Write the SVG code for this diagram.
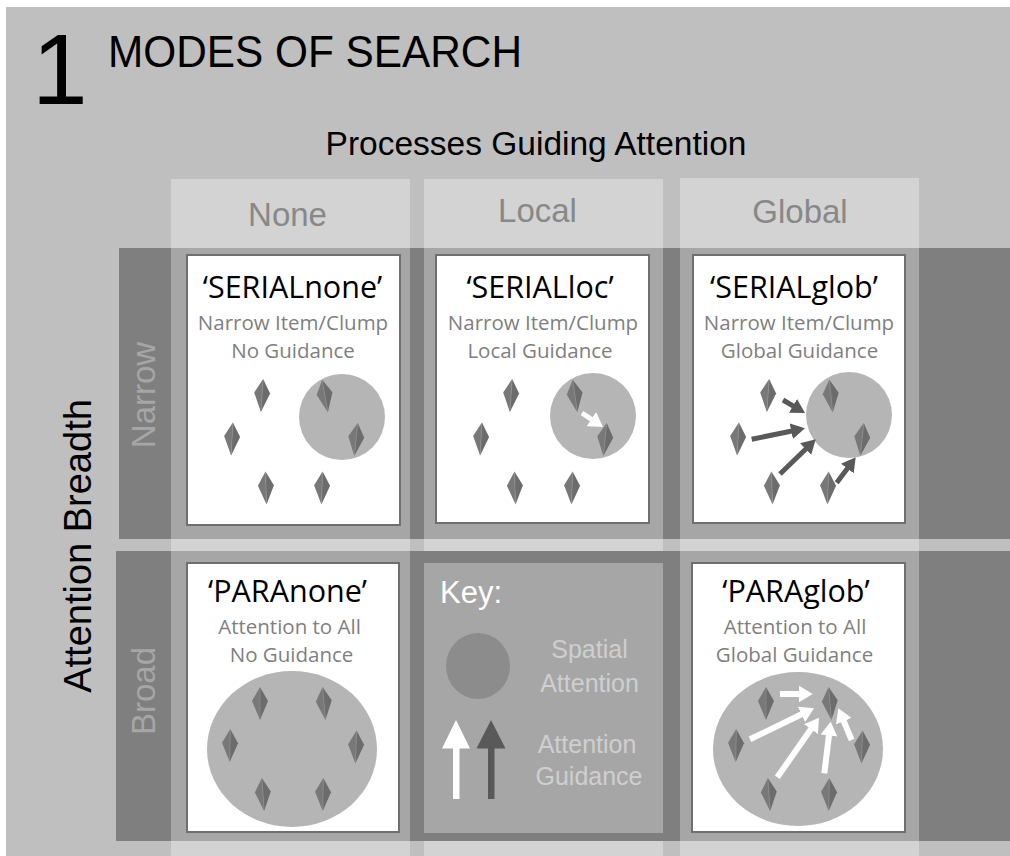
<svg xmlns="http://www.w3.org/2000/svg" xmlns:xlink="http://www.w3.org/1999/xlink" width="1010" height="856" viewBox="0 0 1010 856">
<style>
.card{fill:#ffffff;stroke:#6f6f6f;stroke-width:2}
.ttl{font-family:'Open Sans','Noto Sans',sans-serif;font-size:30.5px;fill:#000;text-anchor:middle}
.sub{font-family:'Open Sans','Noto Sans',sans-serif;font-size:20.5px;fill:#7f7f7f;text-anchor:middle}
.colh{font-size:33px;fill:#888888;text-anchor:middle}
.rowh{font-size:33px;fill:#a6a6a6;text-anchor:middle}
.keyt{font-size:25px;fill:#cfcfcf;text-anchor:middle}
.att{fill:#b5b5b5}
.dk{stroke:#595959;stroke-width:5;fill:none}
.wh{stroke:#ffffff;stroke-width:6;fill:none}
</style>
<defs>
<g id="dia">
<path d="M0,-16.5 L-8,-2.5 L0,16.5 Z" fill="#787878"/>
<path d="M0,-16.5 L8,-2.5 L0,16.5 Z" fill="#6c6c6c"/>
<line x1="0" y1="-15.5" x2="0" y2="15.5" stroke="#8c8c8c" stroke-width="0.8"/>
</g>
<marker id="hd" markerUnits="userSpaceOnUse" markerWidth="14" markerHeight="16" viewBox="0 0 14 16" refX="2" refY="8" orient="auto"><path d="M0,0 L14,8 L0,16 Z" fill="#595959"/></marker>
<marker id="hw" markerUnits="userSpaceOnUse" markerWidth="14" markerHeight="17" viewBox="0 0 14 17" refX="2" refY="8.5" orient="auto"><path d="M0,0 L14,8.5 L0,17 Z" fill="#ffffff"/></marker>
</defs>

<g id="background">
<rect x="0" y="0" width="1010" height="856" fill="#ffffff"/>
<rect x="6" y="7" width="1004" height="849" fill="#bfbfbf"/>
<rect x="171" y="179" width="239" height="677" fill="#d3d3d3"/>
<rect x="424" y="179" width="239" height="677" fill="#d3d3d3"/>
<rect x="680" y="178" width="239" height="678" fill="#d3d3d3"/>
<rect x="119" y="248" width="891" height="291" fill="#7f7f7f"/>
<rect x="116" y="551" width="894" height="290" fill="#7f7f7f"/>
<rect x="171" y="248" width="239" height="291" fill="#a6a6a6"/>
<rect x="424" y="248" width="239" height="291" fill="#a6a6a6"/>
<rect x="680" y="248" width="239" height="291" fill="#a6a6a6"/>
<rect x="171" y="551" width="239" height="290" fill="#a6a6a6"/>
<rect x="680" y="551" width="239" height="290" fill="#a6a6a6"/>
</g>

<g id="titles" font-family="Liberation Sans, Arimo, Arial, Helvetica, sans-serif">
<text x="32" y="104" font-size="100" fill="#000">1</text>
<text x="108" y="67" font-size="44" fill="#000" textLength="414" lengthAdjust="spacingAndGlyphs">MODES OF SEARCH</text>
<text x="536" y="155" font-size="33.5" fill="#000" text-anchor="middle">Processes Guiding Attention</text>
<text class="colh" x="287.5" y="226">None</text>
<text class="colh" x="537.5" y="222">Local</text>
<text class="colh" x="800" y="223">Global</text>
<text class="rowh" transform="translate(155,395) rotate(-90)">Narrow</text>
<text class="rowh" transform="translate(155,691) rotate(-90)">Broad</text>
<text font-size="38" fill="#000" text-anchor="middle" transform="translate(91,546) rotate(-90)">Attention Breadth</text>
</g>

<g id="node-serialnone">
<rect class="card" x="187" y="255" width="213" height="270"/>
<text class="ttl" x="292.5" y="298">‘SERIALnone’</text>
<text class="sub" x="293" y="330">Narrow Item/Clump</text>
<text class="sub" x="293" y="358">No Guidance</text>
<circle class="att" cx="342" cy="417" r="43"/>
<use xlink:href="#dia" transform="translate(262,395.5) rotate(4)"/>
<use xlink:href="#dia" transform="translate(232,439) rotate(3)"/>
<use xlink:href="#dia" transform="translate(266,488) rotate(-2)"/>
<use xlink:href="#dia" transform="translate(322,488) rotate(2)"/>
<use xlink:href="#dia" transform="translate(325,396) rotate(-10)"/>
<use xlink:href="#dia" transform="translate(356,439.5) rotate(6)"/>
</g>

<g id="node-serialloc">
<rect class="card" x="436" y="255" width="213" height="268"/>
<text class="ttl" x="540" y="298">‘SERIALloc’</text>
<text class="sub" x="543" y="330">Narrow Item/Clump</text>
<text class="sub" x="540" y="358">Local Guidance</text>
<circle class="att" cx="593" cy="416" r="43"/>
<use xlink:href="#dia" transform="translate(511,395.5) rotate(4)"/>
<use xlink:href="#dia" transform="translate(481,439) rotate(3)"/>
<use xlink:href="#dia" transform="translate(515,488) rotate(-2)"/>
<use xlink:href="#dia" transform="translate(572,488) rotate(2)"/>
<use xlink:href="#dia" transform="translate(575,396) rotate(-8)"/>
<use xlink:href="#dia" transform="translate(605,439.5) rotate(6)"/>
</g>

<g id="node-serialglob">
<rect class="card" x="693" y="255" width="212" height="268"/>
<text class="ttl" x="794" y="298">‘SERIALglob’</text>
<text class="sub" x="799" y="330">Narrow Item/Clump</text>
<text class="sub" x="799.5" y="358">Global Guidance</text>
<circle class="att" cx="849" cy="415" r="43"/>
<use xlink:href="#dia" transform="translate(768,395.5) rotate(4)"/>
<use xlink:href="#dia" transform="translate(738,439) rotate(3)"/>
<use xlink:href="#dia" transform="translate(772,488) rotate(-2)"/>
<use xlink:href="#dia" transform="translate(828,488) rotate(2)"/>
<use xlink:href="#dia" transform="translate(831,396) rotate(-6)"/>
<use xlink:href="#dia" transform="translate(862,439.5) rotate(6)"/>
</g>

<g id="node-paranone">
<rect class="card" x="187" y="563" width="212" height="269"/>
<text class="ttl" x="287.5" y="602">‘PARAnone’</text>
<text class="sub" x="289.5" y="634">Attention to All</text>
<text class="sub" x="291.5" y="662">No Guidance</text>
<ellipse class="att" cx="292" cy="749" rx="85" ry="78"/>
<use xlink:href="#dia" transform="translate(260,703.5)"/>
<use xlink:href="#dia" transform="translate(324,703.5) rotate(-5)"/>
<use xlink:href="#dia" transform="translate(230,745.5) rotate(1)"/>
<use xlink:href="#dia" transform="translate(356,747) rotate(2)"/>
<use xlink:href="#dia" transform="translate(263,794.5) rotate(-4)"/>
<use xlink:href="#dia" transform="translate(323,794.5) rotate(1)"/>
</g>

<g id="node-key" font-family="Liberation Sans, Arimo, Arial, Helvetica, sans-serif">
<rect x="424" y="551" width="239" height="290" fill="#7f7f7f"/>
<rect x="424" y="563" width="239" height="270" fill="#a6a6a6"/>
<text x="440" y="603" font-size="31" fill="#ffffff">Key:</text>
<ellipse cx="478" cy="666" rx="32" ry="33" fill="#8c8c8c"/>
<text class="keyt" x="589.5" y="658">Spatial</text>
<text class="keyt" x="589.5" y="692">Attention</text>
<rect x="453" y="746" width="6.5" height="53" fill="#ffffff"/>
<polygon points="442,748.5 456,720 470,748.5" fill="#ffffff"/>
<rect x="488" y="746" width="6.5" height="53" fill="#595959"/>
<polygon points="476.5,748.5 491,720 505.5,748.5" fill="#595959"/>
<text class="keyt" x="587" y="753">Attention</text>
<text class="keyt" x="589" y="785">Guidance</text>
</g>

<g id="node-paraglob">
<rect class="card" x="692" y="563" width="213" height="269"/>
<text class="ttl" x="796" y="602">‘PARAglob’</text>
<text class="sub" x="795" y="634">Attention to All</text>
<text class="sub" x="794.5" y="662">Global Guidance</text>
<ellipse class="att" cx="798" cy="749" rx="85" ry="77"/>
<use xlink:href="#dia" transform="translate(766,703.5)"/>
<use xlink:href="#dia" transform="translate(830,703.5) rotate(-5)"/>
<use xlink:href="#dia" transform="translate(736,745.5) rotate(1)"/>
<use xlink:href="#dia" transform="translate(862,747) rotate(2)"/>
<use xlink:href="#dia" transform="translate(769,794.5) rotate(-4)"/>
<use xlink:href="#dia" transform="translate(829,794.5) rotate(1)"/>
</g>

<g id="connectors">
<line class="wh" x1="582" y1="413" x2="593" y2="420.3" marker-end="url(#hw)" style="stroke-width:5"/>
<line class="dk" x1="783" y1="400" x2="794.7" y2="406.9" marker-end="url(#hd)"/>
<line class="dk" x1="751.7" y1="439.3" x2="793.2" y2="430.7" marker-end="url(#hd)"/>
<line class="dk" x1="780" y1="474" x2="807.1" y2="447.7" marker-end="url(#hd)"/>
<line class="dk" x1="836.7" y1="482.7" x2="848.5" y2="466.9" marker-end="url(#hd)"/>
<line class="wh" x1="780" y1="694" x2="800.7" y2="694" marker-end="url(#hw)"/>
<line class="wh" x1="750" y1="739.3" x2="803.2" y2="713.5" marker-end="url(#hw)"/>
<line class="wh" x1="777.3" y1="777.3" x2="812.1" y2="727.5" marker-end="url(#hw)"/>
<line class="wh" x1="824.3" y1="773.3" x2="829.2" y2="733.6" marker-end="url(#hw)"/>
<line class="wh" x1="851.7" y1="740" x2="843" y2="719.4" marker-end="url(#hw)"/>
</g>
</svg>
